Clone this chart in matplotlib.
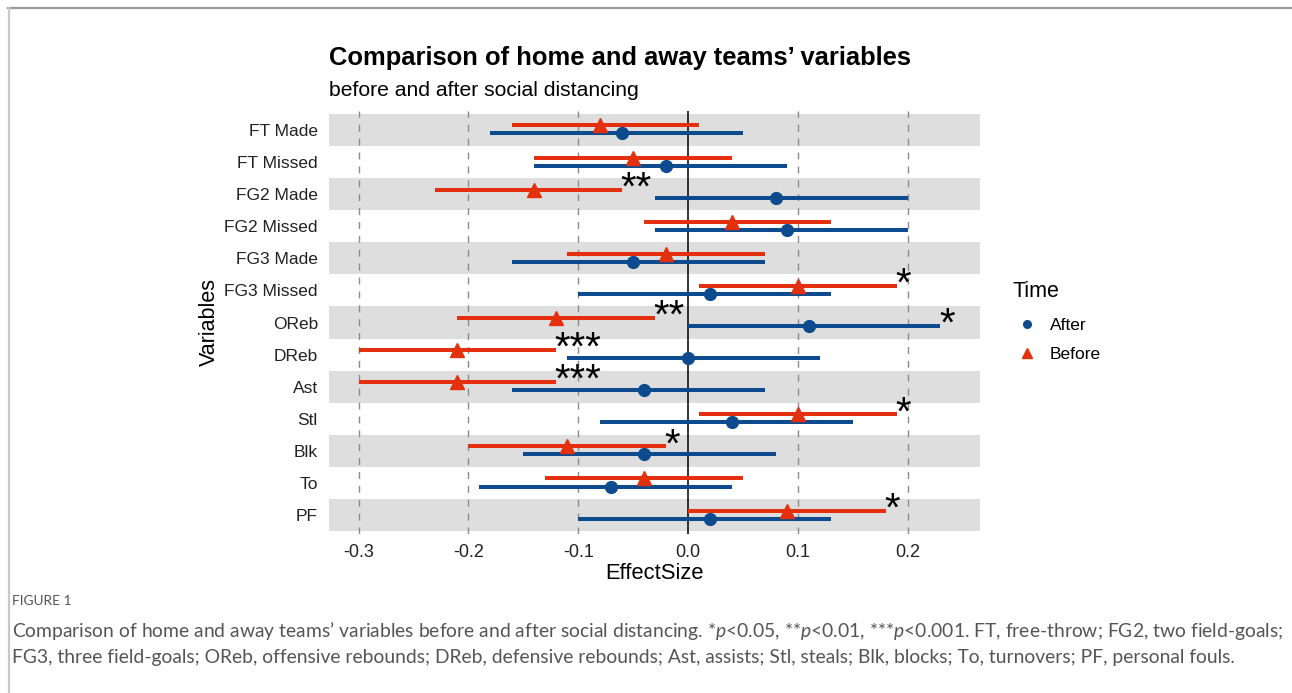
import matplotlib
matplotlib.use("Agg")
import matplotlib.pyplot as plt
from matplotlib.lines import Line2D

plt.rcParams['font.family'] = ['Liberation Sans', 'DejaVu Sans']
plt.rcParams['mathtext.fontset'] = 'custom'
plt.rcParams['mathtext.rm'] = 'Lato'
plt.rcParams['mathtext.it'] = 'Lato:italic'

variables = ["FT Made", "FT Missed", "FG2 Made", "FG2 Missed", "FG3 Made", "FG3 Missed",
             "OReb", "DReb", "Ast", "Stl", "Blk", "To", "PF"]

before_est = [-0.08, -0.05, -0.14, 0.04, -0.02, 0.10, -0.12, -0.21, -0.21, 0.10, -0.11, -0.04, 0.09]
before_lo  = [-0.16, -0.14, -0.23, -0.04, -0.11, 0.01, -0.21, -0.30, -0.30, 0.01, -0.20, -0.13, 0.00]
before_hi  = [0.01, 0.04, -0.06, 0.13, 0.07, 0.19, -0.03, -0.12, -0.12, 0.19, -0.02, 0.05, 0.18]
before_sig = ["", "", "**", "", "", "*", "**", "***", "***", "*", "*", "", "*"]

after_est = [-0.06, -0.02, 0.08, 0.09, -0.05, 0.02, 0.11, 0.00, -0.04, 0.04, -0.04, -0.07, 0.02]
after_lo  = [-0.18, -0.14, -0.03, -0.03, -0.16, -0.10, 0.00, -0.11, -0.16, -0.08, -0.15, -0.19, -0.10]
after_hi  = [0.05, 0.09, 0.20, 0.20, 0.07, 0.13, 0.23, 0.12, 0.07, 0.15, 0.08, 0.04, 0.13]
after_sig = ["", "", "", "", "", "", "*", "", "", "", "", "", ""]

x_ticks = [-0.3, -0.2, -0.1, 0.0, 0.1, 0.2]
x_tick_labels = ["-0.3", "-0.2", "-0.1", "0.0", "0.1", "0.2"]

BLUE = "#0d4a8e"
RED = "#e3300f"
W, H = 1292, 693

fig = plt.figure(figsize=(W / 100, H / 100), dpi=100)

# frame lines of the figure panel
fig.add_artist(Line2D([8 / W, 1.0], [1 - 8 / H, 1 - 8 / H], color="#9a9a9a", lw=1.6))
fig.add_artist(Line2D([8.5 / W, 8.5 / W], [1 - 8 / H, 0.0], color="#c8c8c8", lw=1.6))

ax = fig.add_axes([329 / W, 1 - 534 / H, (980 - 329) / W, (534 - 111) / H])
n = len(variables)
ax.set_ylim(n - 0.5 + 0.09, -0.5 - 0.09)
ax.set_xlim(-0.327, 0.266)

for i in range(n):
    if i % 2 == 0:
        ax.axhspan(i - 0.5, i + 0.5, color="#dedede", lw=0, zorder=0)

for xv in x_ticks:
    if xv == 0:
        ax.axvline(xv, color="black", lw=1.1, zorder=1)
    else:
        ax.axvline(xv, color="#8c8c8c", lw=1.0, ls=(0, (5, 5)), zorder=1)

off_b = -0.14
off_a = 0.11
for i in range(n):
    yb = i + off_b
    ya = i + off_a
    ax.plot([before_lo[i], before_hi[i]], [yb, yb], color=RED, lw=2.9, solid_capstyle="butt", zorder=3)
    ax.plot([after_lo[i], after_hi[i]], [ya, ya], color=BLUE, lw=2.9, solid_capstyle="butt", zorder=3)
    ax.plot(before_est[i], yb, marker="^", color=RED, ms=10, zorder=4, lw=0)
    ax.plot(after_est[i], ya, marker="o", color=BLUE, ms=8.5, zorder=4, lw=0)
    if before_sig[i]:
        ax.annotate(before_sig[i], (before_hi[i], yb), xytext=(-1, 0.8), textcoords="offset points",
                    ha="left", va="center", fontsize=29, color="black", zorder=5)
    if after_sig[i]:
        ax.annotate(after_sig[i], (after_hi[i], ya), xytext=(-1, 0.8), textcoords="offset points",
                    ha="left", va="center", fontsize=29, color="black", zorder=5)

ax.set_yticks(range(n))
ax.set_yticklabels(variables, fontsize=12.5, color="#222222")
ax.set_xticks(x_ticks)
ax.set_xticklabels(x_tick_labels, fontsize=13, color="#222222")
ax.tick_params(axis="y", length=0, pad=8)
ax.tick_params(axis="x", length=0, pad=7)
for s in ax.spines.values():
    s.set_visible(False)
ax.set_xlabel("EffectSize", fontsize=15.8, labelpad=1.5)
ax.set_ylabel("Variables", fontsize=15.5, labelpad=3)

fig.text(329 / W, 1 - 58 / H, "Comparison of home and away teams\u2019 variables", fontsize=18.4,
         fontweight="bold", ha="left", va="center")
fig.text(329 / W, 1 - 90 / H, "before and after social distancing", fontsize=15.2, ha="left", va="center")

handles = [Line2D([], [], marker="o", color=BLUE, ls="", ms=5.5),
           Line2D([], [], marker="^", color=RED, ls="", ms=6.5)]
leg = fig.legend(handles, ["After", "Before"], title="Time", loc="upper left",
                 bbox_to_anchor=(997 / W, 1 - 265 / H), frameon=False, fontsize=12.5,
                 title_fontsize=15.5, handletextpad=0.55, labelspacing=0.75, handlelength=1.6)
leg._legend_box.align = "left"
leg._legend_box.sep = 12

fig.text(12 / W, 1 - 601 / H, "FIGURE 1", fontsize=9.9, family="Lato", color="#555555",
         ha="left", va="center")
cap1 = ("Comparison of home and away teams\u2019 variables before and after social distancing. "
        "*$\\it{p}$<0.05, **$\\it{p}$<0.01, ***$\\it{p}$<0.001. FT, free-throw; FG2, two field-goals;")
cap2 = ("FG3, three field-goals; OReb, offensive rebounds; DReb, defensive rebounds; Ast, assists; "
        "Stl, steals; Blk, blocks; To, turnovers; PF, personal fouls.")
fig.text(12 / W, 1 - 631 / H, cap1, fontsize=13.9, family="Lato", color="#555555", ha="left", va="center")
fig.text(12 / W, 1 - 657 / H, cap2, fontsize=13.9, family="Lato", color="#555555", ha="left", va="center")

fig.savefig("out.png", dpi=100)
